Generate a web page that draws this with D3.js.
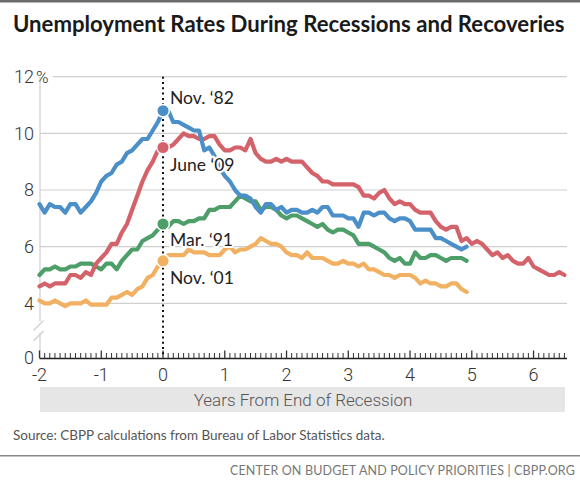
<!DOCTYPE html>
<html>
<head>
<meta charset="utf-8">
<script src="https://cdn.jsdelivr.net/npm/d3@7"></script>
<style>
  html, body { margin: 0; padding: 0; background: #fff; }
  svg { display: block; }
</style>
</head>
<body>
<svg id="chart" width="580" height="487"></svg>
<script>
// ---------- DATA ----------
const title = "Unemployment Rates During Recessions and Recoveries";
const xLabel = "Years From End of Recession";
const source = "Source: CBPP calculations from Bureau of Labor Statistics data.";
const footer = "CENTER ON BUDGET AND POLICY PRIORITIES | CBPP.ORG";

const seriesNames = ["Nov. ‘82", "June ‘09", "Mar. ‘91", "Nov. ‘01"];
const seriesColors = ["#4b8fc9", "#d4626a", "#4e9e6a", "#f2b062"];
const startMonth = -24; // months from end of recession

// Nov 1980 – Oct 1987
const nov82 = [7.5,7.2,7.5,7.4,7.4,7.2,7.5,7.5,7.2,7.4,7.6,7.9,8.3,8.5,8.6,8.9,9.0,9.3,9.4,9.6,9.8,9.8,10.1,10.4,
  10.8,10.8,10.4,10.4,10.3,10.2,10.1,10.1,9.4,9.5,9.2,8.8,8.5,8.3,8.0,7.8,7.8,7.7,7.4,7.2,7.5,7.5,7.3,7.4,7.2,7.3,
  7.3,7.2,7.2,7.3,7.2,7.4,7.4,7.1,7.1,7.1,7.0,7.0,6.7,7.2,7.2,7.1,7.2,7.2,7.0,6.9,7.0,7.0,6.9,6.6,6.6,6.6,6.6,6.3,
  6.3,6.2,6.1,6.0,5.9,6.0];
// June 2007 – Dec 2015
const jun09 = [4.6,4.7,4.6,4.7,4.7,4.7,5.0,5.0,4.9,5.1,5.0,5.4,5.6,5.8,6.1,6.1,6.5,6.8,7.3,7.8,8.3,8.7,9.0,9.4,
  9.5,9.5,9.6,9.8,10.0,9.9,9.9,9.8,9.8,9.9,9.9,9.6,9.4,9.4,9.5,9.5,9.4,9.8,9.3,9.1,9.0,9.0,9.1,9.0,9.1,9.0,9.0,
  9.0,8.8,8.6,8.5,8.3,8.3,8.2,8.2,8.2,8.2,8.2,8.1,7.8,7.8,7.7,7.9,8.0,7.7,7.5,7.6,7.5,7.5,7.3,7.2,7.2,7.2,6.9,6.7,
  6.6,6.7,6.7,6.2,6.3,6.1,6.2,6.1,5.9,5.7,5.8,5.6,5.7,5.5,5.4,5.4,5.6,5.3,5.2,5.1,5.0,5.0,5.1,5.0];
// Mar 1989 – Feb 1996
const mar91 = [5.0,5.2,5.2,5.3,5.2,5.2,5.3,5.3,5.4,5.4,5.4,5.3,5.2,5.4,5.4,5.2,5.5,5.7,5.9,5.9,6.2,6.3,6.4,6.6,
  6.8,6.7,6.9,6.9,6.8,6.9,6.9,7.0,7.0,7.3,7.3,7.4,7.4,7.4,7.6,7.8,7.7,7.6,7.6,7.3,7.4,7.4,7.3,7.1,7.0,7.1,7.1,7.0,
  6.9,6.8,6.7,6.8,6.6,6.5,6.6,6.6,6.5,6.4,6.1,6.1,6.1,6.0,5.9,5.8,5.6,5.5,5.6,5.4,5.4,5.8,5.6,5.6,5.7,5.7,5.6,5.5,
  5.6,5.6,5.6,5.5];
// Nov 1999 – Oct 2006
const nov01 = [4.1,4.0,4.0,4.1,4.0,3.8,4.0,4.0,4.0,4.1,3.9,3.9,3.9,3.9,4.2,4.2,4.3,4.4,4.3,4.5,4.6,4.9,5.0,5.3,
  5.5,5.7,5.7,5.7,5.7,5.9,5.8,5.8,5.8,5.7,5.7,5.7,5.9,6.0,5.8,5.9,5.9,6.0,6.1,6.3,6.2,6.1,6.1,6.0,5.8,5.7,5.7,5.6,
  5.8,5.6,5.6,5.6,5.5,5.4,5.4,5.5,5.4,5.4,5.3,5.4,5.2,5.2,5.1,5.0,5.0,4.9,5.0,5.0,5.0,4.9,4.7,4.8,4.7,4.7,4.6,4.6,
  4.7,4.7,4.5,4.4];

const yTickValues = [0, 4, 6, 8, 10, 12];
const xTickValues = [-2, -1, 0, 1, 2, 3, 4, 5, 6];

// ---------- LAYOUT ----------
const svg = d3.select("#chart");
const W = 580;

const x = d3.scaleLinear().domain([-24, 78.5]).range([39.5, 567]);
const y = d3.scaleLinear().domain([0, 4, 12]).range([358, 303.3, 76.7]);

const lightFont = "Roboto, 'Noto Sans', sans-serif";
const labelFont = "Lato, 'Open Sans', sans-serif";

// top rule
svg.append("rect").attr("x", 0).attr("y", 0).attr("width", W).attr("height", 2.5).attr("fill", "#6b6b6b");

// title
const t = svg.append("text").attr("x", 13).attr("y", 32)
  .attr("font-family", labelFont).attr("font-weight", 700).attr("font-size", 20)
  .attr("fill", "#1a1a1a").text(title);
const tw = t.node().getComputedTextLength();
t.attr("font-size", 20 * 552 / tw);

// grid lines
const g = svg.append("g");
g.selectAll("line.grid").data(yTickValues.filter(v => v > 0)).join("line")
  .attr("x1", d => d === 12 ? 53 : 40).attr("x2", 567)
  .attr("y1", d => y(d)).attr("y2", d => y(d))
  .attr("stroke", "#cfcfcf").attr("stroke-width", 1.2);

// y axis vertical line with break
g.append("line").attr("x1", 40).attr("x2", 40).attr("y1", y(12)).attr("y2", 321.5)
  .attr("stroke", "#cfcfcf").attr("stroke-width", 1.2);
g.append("line").attr("x1", 40).attr("x2", 40).attr("y1", 333).attr("y2", 358)
  .attr("stroke", "#cfcfcf").attr("stroke-width", 1.2);
[[330.5, 320.5], [341, 331]].forEach(([a, b]) => {
  g.append("line").attr("x1", 33.5).attr("x2", 43.5).attr("y1", a).attr("y2", b)
    .attr("stroke", "#cfcfcf").attr("stroke-width", 1.2);
});

// y tick labels
g.selectAll("text.ytick").data(yTickValues).join("text")
  .attr("x", 34).attr("y", d => y(d)).attr("dy", "0.36em")
  .attr("text-anchor", "end")
  .attr("font-family", lightFont).attr("font-weight", 300).attr("font-size", 18)
  .attr("fill", "#333").text(d => d);
g.append("text").attr("x", 36).attr("y", y(12)).attr("dy", "0.36em")
  .attr("font-family", lightFont).attr("font-weight", 300).attr("font-size", 17)
  .attr("fill", "#333").text("%");

// x axis with monthly ticks
const months = d3.range(-24, 79);
const xAxis = d3.axisBottom(x).tickValues(months).tickSize(0).tickFormat("");
const ax = svg.append("g").attr("transform", "translate(0,358)").call(xAxis);
ax.select(".domain").remove();
svg.append("line").attr("x1", 39.5).attr("x2", 567).attr("y1", 358.5).attr("y2", 358.5)
  .attr("stroke", "#222").attr("stroke-width", 1.5);
svg.append("g").selectAll("line").data(months).join("line")
  .attr("x1", d => x(d)).attr("x2", d => x(d))
  .attr("y1", 358).attr("y2", d => d % 12 === 0 ? 350.5 : 353)
  .attr("stroke", "#333").attr("stroke-width", d => d % 12 === 0 ? 1.3 : 1);

// x tick labels
svg.append("g").selectAll("text").data(xTickValues).join("text")
  .attr("x", d => x(d * 12)).attr("y", 381)
  .attr("text-anchor", "middle")
  .attr("font-family", lightFont).attr("font-weight", 300).attr("font-size", 18)
  .attr("fill", "#333").text(d => d);

// x label band
svg.append("rect").attr("x", 40).attr("y", 387).attr("width", 525).attr("height", 25).attr("fill", "#e6e6e6");
svg.append("text").attr("x", 303).attr("y", 405.5).attr("text-anchor", "middle")
  .attr("font-family", lightFont).attr("font-weight", 300).attr("font-size", 17)
  .attr("fill", "#555").text(xLabel);

// dotted vertical line at 0
svg.append("line").attr("x1", x(0)).attr("x2", x(0)).attr("y1", y(12)).attr("y2", 357)
  .attr("stroke", "#111").attr("stroke-width", 2).attr("stroke-dasharray", "2,3.3");

// series lines
const series = [nov82, jun09, mar91, nov01];
const line = d3.line().x((d, i) => x(startMonth + i)).y(d => y(d));
const drawOrder = [3, 2, 1, 0];
const lg = svg.append("g");
drawOrder.forEach(k => {
  lg.append("path").datum(series[k]).attr("d", line)
    .attr("fill", "none").attr("stroke", seriesColors[k]).attr("stroke-width", 4.2)
    .attr("stroke-linejoin", "round").attr("stroke-linecap", "round");
});

// labels with white halo
const labelOffsets = [[7, -7], [7, 23], [7, 22], [7, 23]];
series.forEach((s, k) => {
  const v = s[-startMonth];
  svg.append("text").attr("x", x(0) + labelOffsets[k][0]).attr("y", y(v) + labelOffsets[k][1])
    .attr("font-family", labelFont).attr("font-size", 17.5).attr("fill", "#222")
    .attr("stroke", "#fff").attr("stroke-width", 4).attr("paint-order", "stroke")
    .attr("stroke-linejoin", "round")
    .text(seriesNames[k]);
});

// dots at 0
series.forEach((s, k) => {
  svg.append("circle").attr("cx", x(0)).attr("cy", y(s[-startMonth])).attr("r", 6.3)
    .attr("fill", seriesColors[k]).attr("stroke", "#fff").attr("stroke-width", 1.5);
});

// source
const src = svg.append("text").attr("x", 13).attr("y", 440)
  .attr("font-family", labelFont).attr("font-size", 13).attr("fill", "#555").text(source);
const sw = src.node().getComputedTextLength();
src.attr("font-size", 13 * 372 / sw);

// divider
svg.append("rect").attr("x", 0).attr("y", 455).attr("width", W).attr("height", 1.5).attr("fill", "#8a8a8a");

// footer
svg.append("text").attr("x", 575).attr("y", 475).attr("text-anchor", "end")
  .attr("font-family", labelFont).attr("font-size", 12.5).attr("letter-spacing", 0.15)
  .attr("fill", "#777").text(footer);
</script>
</body>
</html>
